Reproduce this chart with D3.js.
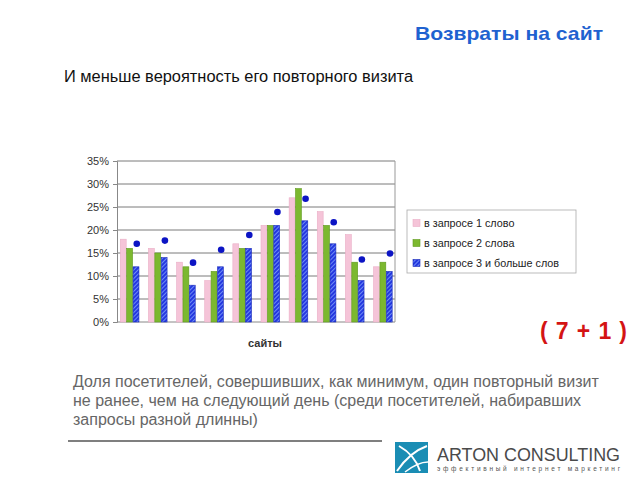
<!DOCTYPE html>
<html><head><meta charset="utf-8">
<script src="https://cdn.jsdelivr.net/npm/d3@7"></script>
<style>body{margin:0;background:#fff}svg{display:block}</style>
</head><body>
<script>
const categories = ["1","2","3","4","5","6","7","8","9","10"];
const seriesNames = ["в запросе 1 слово","в запросе 2 слова","в запросе 3 и больше слов"];
const oneWord   = [18,16,13,9,17,21,27,24,19,12];
const twoWords  = [16,15,12,11,16,21,29,21,13,13];
const threePlus = [12,14,8,12,16,21,22,17,9,11];
const dots      = [17,17.7,12.9,15.7,18.9,23.9,26.8,21.7,13.6,14.9];
const yTicks = [0,5,10,15,20,25,30,35];

const W=640,H=480;
const FONT="Liberation Sans, Arial, sans-serif";
const svg=d3.select("body").append("svg").attr("width",W).attr("height",H);
const defs=svg.append("defs");
const pat=defs.append("pattern").attr("id","hatch").attr("patternUnits","userSpaceOnUse")
  .attr("width",3).attr("height",3).attr("patternTransform","rotate(45)");
pat.append("rect").attr("width",3).attr("height",3).attr("fill","#2438e0");
pat.append("rect").attr("width",1).attr("height",3).attr("fill","#6f8cf6");

// Titles
svg.append("text").attr("x",415).attr("y",40)
  .attr("textLength",188).attr("lengthAdjust","spacingAndGlyphs")
  .attr("font-family",FONT).attr("font-weight","bold")
  .attr("font-size",19).attr("fill","#1f62d0").text("Возвраты на сайт");
svg.append("text").attr("x",64).attr("y",82)
  .attr("textLength",349).attr("lengthAdjust","spacingAndGlyphs")
  .attr("font-family",FONT)
  .attr("font-size",16).attr("fill","#111").text("И меньше вероятность его повторного визита");

// Chart
const x0=117,x1=395,yBase=322,yTop=161;
const x=d3.scaleBand().domain(categories).range([x0,x1]).paddingInner(0.32).paddingOuter(0.1);
const xs=d3.scaleBand().domain([0,1,2]).range([0,x.bandwidth()]);
const y=d3.scaleLinear().domain([0,35]).range([yBase,yTop]);

const g=svg.append("g");
g.selectAll("line.grid").data(yTicks).enter().append("line")
  .attr("x1",x0).attr("x2",x1).attr("y1",d=>y(d)).attr("y2",d=>y(d))
  .attr("stroke",d=>d===0?"#888":"#7a7a7a").attr("stroke-width",1);
g.append("line").attr("x1",x1).attr("x2",x1).attr("y1",yTop).attr("y2",yBase).attr("stroke","#999");

const yAxis=d3.axisLeft(y).tickValues(yTicks).tickFormat(d=>d+"%").tickSize(4).tickPadding(4);
const ya=g.append("g").attr("transform",`translate(${x0},0)`).call(yAxis);
ya.select(".domain").attr("stroke","#888");
ya.selectAll(".tick line").attr("stroke","#888");
ya.selectAll("text").attr("font-family",FONT).attr("font-size",11).attr("fill","#333");

const series=[oneWord,twoWords,threePlus];
const fills=["#f5c4d8","#7cb82f","url(#hatch)"];
const strokes=["#eaaec6","#5f9a1e","#1a2bb8"];
series.forEach((s,si)=>{
  g.selectAll(null).data(s).enter().append("rect")
    .attr("x",(d,i)=>x(categories[i])+xs(si)+0.5)
    .attr("width",xs.bandwidth()-0.5)
    .attr("y",d=>y(d)).attr("height",d=>yBase-y(d))
    .attr("fill",fills[si]).attr("stroke",strokes[si]).attr("stroke-width",0.6);
});
g.selectAll("circle.dot").data(dots).enter().append("circle")
  .attr("cx",(d,i)=>x(categories[i])+xs(2)+xs.bandwidth()/2+1)
  .attr("cy",d=>y(d)).attr("r",3.3).attr("fill","#0c14c4");

svg.append("text").attr("x",265).attr("y",347).attr("text-anchor","middle")
  .attr("font-family",FONT).attr("font-weight","bold")
  .attr("font-size",11).attr("fill","#333").text("сайты");

// Legend
const lg=svg.append("g");
lg.append("rect").attr("x",407).attr("y",210).attr("width",169).attr("height",63)
  .attr("fill","#fff").attr("stroke","#aaa").attr("stroke-width",0.8);
seriesNames.forEach((n,i)=>{
  const cy=223+i*20;
  lg.append("rect").attr("x",413).attr("y",cy-3.5).attr("width",7).attr("height",7)
    .attr("fill",fills[i]).attr("stroke",strokes[i]).attr("stroke-width",0.6);
  lg.append("text").attr("x",424).attr("y",cy+4).attr("font-family",FONT)
    .attr("font-size",10.8).attr("fill","#222").text(n);
});

// (7 + 1)
svg.append("text").attr("x",540).attr("y",339)
  .attr("textLength",87).attr("lengthAdjust","spacing")
  .attr("font-family",FONT).attr("font-weight","bold")
  .attr("font-size",23).attr("fill","#d41414").text("( 7 + 1 )");

// Paragraph
const para=["Доля посетителей, совершивших, как минимум, один повторный визит",
  "не ранее, чем на следующий день (среди посетителей, набиравших",
  "запросы разной длинны)"];
para.forEach((t,i)=>svg.append("text").attr("x",73).attr("y",387+i*19)
  .attr("font-family",FONT).attr("font-size",16)
  .attr("fill","#666").text(t));
svg.append("line").attr("x1",68).attr("x2",382).attr("y1",441).attr("y2",441)
  .attr("stroke","#555").attr("stroke-width",1.5);

// Logo
const lo=svg.append("g");
lo.append("rect").attr("x",395).attr("y",442).attr("width",33).attr("height",31).attr("fill","#1a8db4");
lo.append("path").attr("d","M397,471 Q410,452 427,446").attr("stroke","#fff").attr("stroke-width",2).attr("fill","none");
lo.append("path").attr("d","M399,446 Q415,455 420,471").attr("stroke","#fff").attr("stroke-width",2).attr("fill","none");
lo.append("path").attr("d","M405,472 Q418,462 428,462").attr("stroke","#fff").attr("stroke-width",1.5).attr("fill","none");
lo.append("text").attr("x",437).attr("y",461).attr("textLength",183).attr("lengthAdjust","spacingAndGlyphs")
  .attr("font-family",FONT).attr("font-size",19).attr("fill","#4a4a4a")
  .text("ARTON CONSULTING");
lo.append("text").attr("x",437).attr("y",471).attr("textLength",183).attr("lengthAdjust","spacing")
  .attr("font-family",FONT).attr("font-size",6.5).attr("fill","#555")
  .text("эффективный интернет маркетинг");
</script>
</body></html>
